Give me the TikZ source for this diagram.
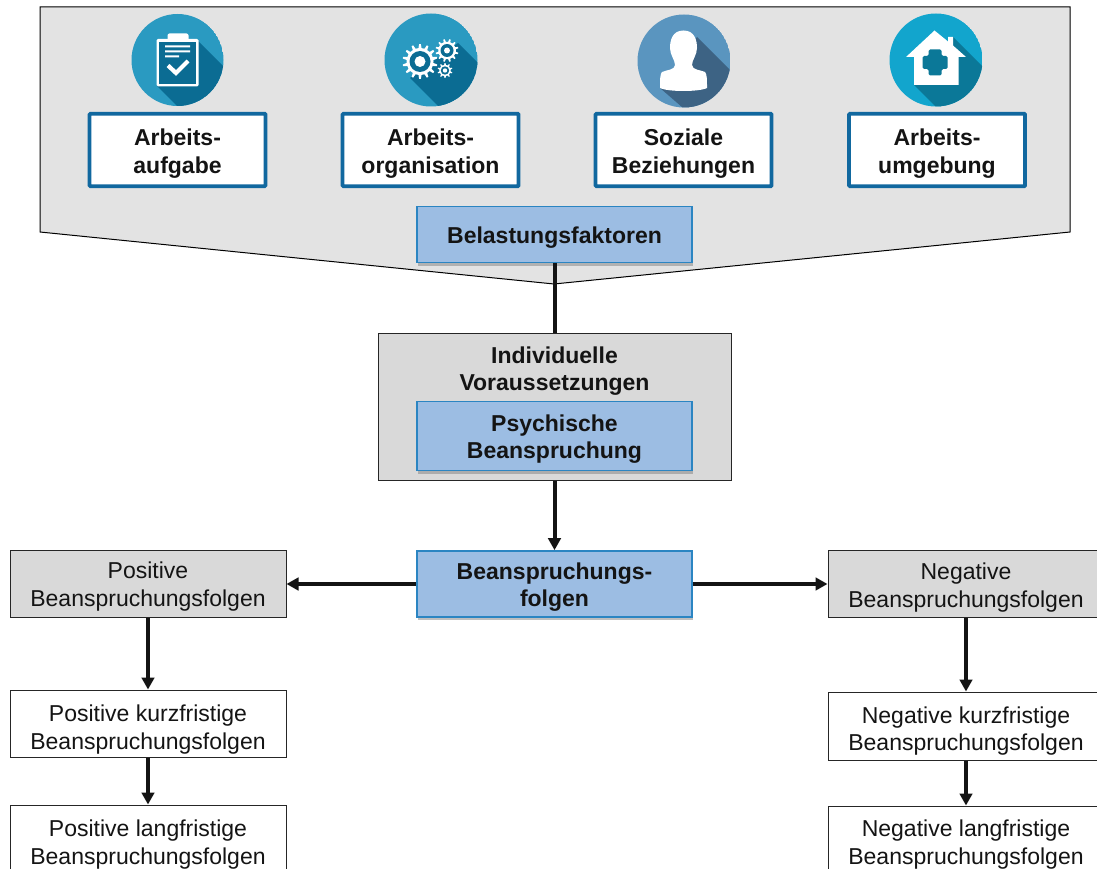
\documentclass[tikz,border=0pt]{standalone}
\usepackage{fontspec}
\setmainfont{Liberation Sans}
\usetikzlibrary{arrows.meta,shadows}
\definecolor{panelgrey}{HTML}{E3E3E3}
\definecolor{boxgrey}{HTML}{D9D9D9}
\definecolor{bluefill}{HTML}{9CBDE3}
\definecolor{blueline}{HTML}{2B85C2}
\definecolor{frameblue}{HTML}{11689F}
\definecolor{iconA}{HTML}{2A9AC1}
\definecolor{iconAd}{HTML}{0B6C93}
\definecolor{iconC}{HTML}{5A95BF}
\definecolor{iconCd}{HTML}{3D6384}
\definecolor{iconD}{HTML}{12A5CD}
\definecolor{iconDd}{HTML}{0B7898}
\newcommand{\lowered}[1]{\rule{0pt}{\dimexpr 16.7pt+#1pt+#1pt\relax}}
\tikzset{
  x=1pt,y=-1pt,
  every node/.style={font=\fontsize{23}{27.5}\selectfont,align=center,inner sep=0pt,text=black!92},
  factorbox/.style={draw=frameblue,line width=3.6pt,fill=white,rounded corners=0.8pt,minimum width=176pt,minimum height=72.5pt,font=\fontsize{23}{27.5}\selectfont\bfseries},
  bluebox/.style={draw=blueline,line width=1.7pt,fill=bluefill,minimum width=275pt,font=\fontsize{23}{27.5}\selectfont\bfseries,drop shadow={shadow xshift=1pt,shadow yshift=-3pt,opacity=.5}},
  greybox/.style={draw=black!85,line width=1pt,fill=boxgrey,minimum width=276pt,minimum height=67pt},
  whitebox/.style={draw=black!85,line width=1pt,fill=white,minimum width=276pt,minimum height=67pt},
  link/.style={line width=4pt,black!92},
  arrowlink/.style={link,-{Triangle[length=12pt,width=12.5pt]},shorten >=0pt},
}
\begin{document}
\begin{tikzpicture}
\useasboundingbox (0,0) rectangle (1097,869);
\clip (0,0) rectangle (1097,869);
\fill[white] (0,0) rectangle (1097,869);
% panel
\draw[draw=black,fill=panelgrey,line width=1pt] (40,7) -- (1070,7) -- (1070,232) -- (554,284) -- (40,232) -- cycle;

% icon 1: clipboard
\begin{scope}
\clip (177.5,60) circle (46);
\fill[iconA] (177.5,60) circle (46);
\fill[iconAd] (157,86) -- (198,41) -- (240,83) -- (240,130) -- (185,114) -- cycle;
\end{scope}
\fill[white,rounded corners=1.5pt] (156.5,39) rectangle (198.5,86.5);
\fill[white,rounded corners=2pt] (167.5,33.5) rectangle (188.5,42);
\fill[iconAd] (159,42) rectangle (196,84);
\fill[white] (165,45.5) rectangle (190,47.5) (165,50.5) rectangle (190,52.5) (165,55.5) rectangle (179,57.5);
\draw[white,line width=4.2pt] (168,65.5) -- (176,73) -- (188,61);

% icon 2: gears
\begin{scope}
\clip (431,60) circle (46.5);
\fill[iconA] (431,60) circle (46.5);
\fill[iconAd] (410,78) -- (458,43) -- (500,85) -- (470,130) -- (460,128) -- cycle;
\end{scope}
\foreach \cx/\cy/\rO/\rM/\n in {420/61.5/17.5/13.5/14, 447/50.5/11.5/8.8/12, 445/70.5/7.5/5.6/10}{
  \fill[white] ({\cx+\rM},\cy)
    \foreach \k in {1,...,\n}{
      -- ({\cx+\rM*cos((\k-0.5)*360/\n-90/\n)},{\cy+\rM*sin((\k-0.5)*360/\n-90/\n)})
      -- ({\cx+\rO*cos((\k-0.5)*360/\n-40/\n)},{\cy+\rO*sin((\k-0.5)*360/\n-40/\n)})
      -- ({\cx+\rO*cos((\k-0.5)*360/\n+40/\n)},{\cy+\rO*sin((\k-0.5)*360/\n+40/\n)})
      -- ({\cx+\rM*cos((\k-0.5)*360/\n+90/\n)},{\cy+\rM*sin((\k-0.5)*360/\n+90/\n)})
    } -- cycle;
}
\fill[iconAd] (420,61.5) circle (10.5);
\fill[white] (420,61.5) circle (5.5);
\fill[iconAd] (447,50.5) circle (6.5);
\fill[white] (447,50.5) circle (3);
\fill[iconAd] (445,70.5) circle (4.2);
\fill[white] (445,70.5) circle (2.2);

% icon 3: person
\begin{scope}
\clip (684,61) circle (46.5);
\fill[iconC] (684,61) circle (46.5);
\fill[iconCd] (660,88) -- (697,37) -- (745,85) -- (745,140) -- (720,140) -- cycle;
\end{scope}
\fill[white] (683.5,30.5) .. controls (672,30.5) and (670,41) .. (670,48)
  .. controls (670,55) and (675,60) .. (675,65)
  .. controls (675,70) and (666,70) .. (662,72)
  .. controls (660,74) and (660,80) .. (660,88)
  .. controls (668,92) and (699,92) .. (707,88)
  .. controls (707,80) and (707,74) .. (705,72)
  .. controls (701,70) and (692,70) .. (692,65)
  .. controls (692,60) and (697,55) .. (697,48)
  .. controls (697,41) and (695,30.5) .. (683.5,30.5) -- cycle;

% icon 4: house
\begin{scope}
\clip (936,60) circle (46.5);
\fill[iconD] (936,60) circle (46.5);
\fill[iconDd] (914,85) -- (953,37) -- (1000,84) -- (1000,140) -- (965,136) -- cycle;
\end{scope}
\fill[white] (934.5,30.5) -- (948,41.5) -- (948,37) -- (953,37) -- (953,45.5) -- (966,57) -- (958.5,57) -- (958.5,85) -- (914,85) -- (914,57) -- (906,57) -- cycle;
\fill[iconDd,rounded corners=1.5pt] (928.5,49.5) -- (941.5,49.5) -- (941.5,56) -- (947.5,56) -- (947.5,69) -- (941.5,69) -- (941.5,75.5) -- (928.5,75.5) -- (928.5,69) -- (922.5,69) -- (922.5,56) -- (928.5,56) -- cycle;

% four factor boxes
\node[factorbox] (aufgabe) at (177.5,150) {\lowered{3.5}Arbeits-\\aufgabe};
\node[factorbox] (organisation) at (430.5,150) {\lowered{3.5}Arbeits-\\organisation};
\node[factorbox] (beziehungen) at (683.5,150) {\lowered{3.5}Soziale\\Beziehungen};
\node[factorbox] (umgebung) at (937,150) {\lowered{3.5}Arbeits-\\umgebung};

\node[bluebox,minimum height=56pt] (belastung) at (554.5,234.5) {\lowered{3}Belastungsfaktoren};
\node[draw=black!85,line width=1pt,fill=boxgrey,minimum width=353pt,minimum height=147pt] (indiv) at (554.5,406.5) {};
\node[font=\fontsize{23}{27.5}\selectfont\bfseries] (indivtext) at (554.5,368) {\lowered{3}Individuelle\\Voraussetzungen};
\node[bluebox,minimum height=69pt] (psych) at (554.5,436) {\lowered{3}Psychische\\Beanspruchung};
\node[bluebox,minimum height=66pt] (folgen) at (554.5,584) {\lowered{3}Beanspruchungs-\\folgen};

\node[greybox] (pos) at (148,584) {\lowered{2.5}Positive\\Beanspruchungsfolgen};
\node[whitebox] (poskurz) at (148,723.5) {\lowered{6}Positive kurzfristige\\Beanspruchungsfolgen};
\node[whitebox] (poslang) at (148,838.5) {\lowered{6}Positive langfristige\\Beanspruchungsfolgen};
\node[greybox] (neg) at (966,584) {\lowered{3.5}Negative\\Beanspruchungsfolgen};
\node[whitebox,minimum height=68pt] (negkurz) at (966,726) {\lowered{5}Negative kurzfristige\\Beanspruchungsfolgen};
\node[whitebox] (neglang) at (966,839.5) {\lowered{5}Negative langfristige\\Beanspruchungsfolgen};

\draw[link] (belastung.south) -- (indiv.north);
\draw[arrowlink] (indiv.south) -- (folgen.north);
\draw[arrowlink] (folgen.west) -- (pos.east);
\draw[arrowlink] (folgen.east) -- (neg.west);
\draw[arrowlink] (pos.south) -- (poskurz.north);
\draw[arrowlink] (poskurz.south) -- (poslang.north);
\draw[arrowlink] (neg.south) -- (negkurz.north);
\draw[arrowlink] (negkurz.south) -- (neglang.north);
\end{tikzpicture}
\end{document}
